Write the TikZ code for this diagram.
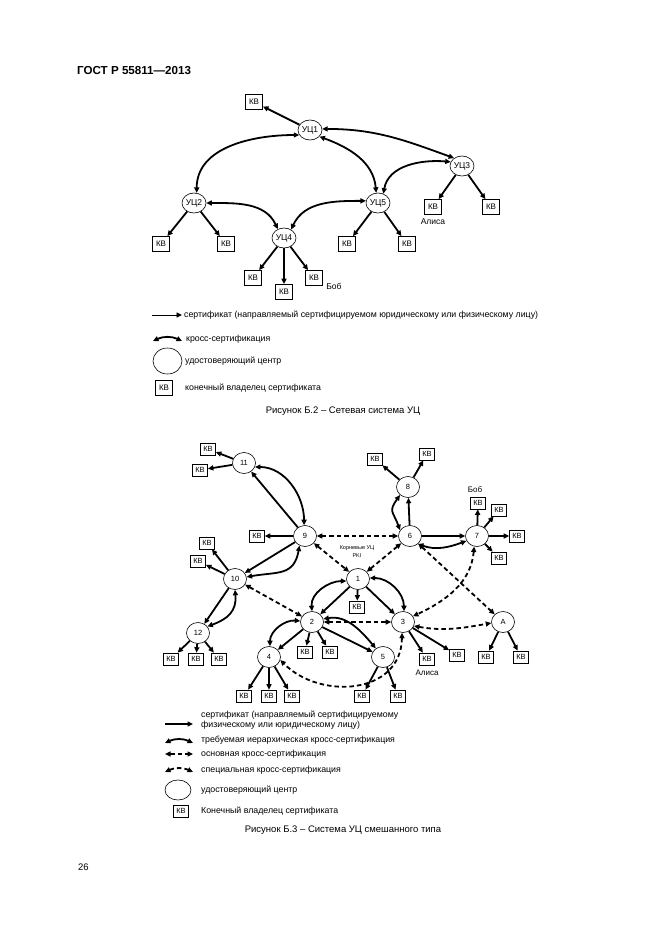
\documentclass[tikz,border=0pt]{standalone}
\usepackage{fontspec}
\setmainfont{Liberation Sans}
\usetikzlibrary{shapes.geometric,arrows.meta}
\begin{document}
\begin{tikzpicture}[x=1pt,y=1pt,
  ca/.style={draw, ellipse, line width=0.6pt, minimum width=24pt, minimum height=20pt, inner sep=0pt, font=\fontsize{8.5}{10}\selectfont},
  cb/.style={draw, ellipse, line width=0.6pt, minimum width=23pt, minimum height=21pt, inner sep=0pt, font=\fontsize{7.5}{9}\selectfont},
  kva/.style={draw, line width=0.8pt, minimum width=17pt, minimum height=15pt, inner sep=0pt, font=\fontsize{8}{9}\selectfont},
  kvb/.style={draw, line width=0.7pt, minimum width=15pt, minimum height=12pt, inner sep=0pt, font=\fontsize{7.5}{9}\selectfont},
  cert/.style={line width=1.8pt, -{Triangle[length=5.5pt,width=5pt]}},
  xcert/.style={line width=1.8pt, {Triangle[length=5.5pt,width=5pt]}-{Triangle[length=5.5pt,width=5pt]}},
  dxcert/.style={xcert, dash pattern=on 4.5pt off 3pt},
  lbl/.style={inner sep=0pt, font=\fontsize{8.5}{10}\selectfont},
  txt/.style={anchor=west, inner sep=0pt, font=\fontsize{8.8}{10.5}\selectfont},
  figcap/.style={inner sep=0pt, font=\fontsize{9.5}{11}\selectfont}
]
\path[use as bounding box, fill=white] (0,0) rectangle (661,-935);

\node[anchor=base west, inner sep=0pt, font=\bfseries\fontsize{11.6}{13}\selectfont] (hdr) at (77,-74) {ГОСТ Р 55811—2013};
\node[anchor=west, inner sep=0pt, font=\fontsize{9.5}{11}\selectfont] (pg) at (78,-867) {26};

% ---------- Figure B.2 ----------
\node[ca] (u1) at (310,-130) {УЦ1};
\node[ca] (u3) at (462,-166) {УЦ3};
\node[ca] (u2) at (194,-203) {УЦ2};
\node[ca] (u5) at (378,-203) {УЦ5};
\node[ca] (u4) at (284,-238) {УЦ4};
\node[kva] (k0) at (254,-102) {КВ};
\node[kva] (ku3a) at (433,-207) {КВ};
\node[kva] (ku3b) at (491,-207) {КВ};
\node[kva] (ku2a) at (161,-244) {КВ};
\node[kva] (ku2b) at (226,-244) {КВ};
\node[kva] (ku5a) at (347,-244) {КВ};
\node[kva] (ku5b) at (407,-244) {КВ};
\node[kva] (ku4a) at (253,-278) {КВ};
\node[kva] (ku4b) at (284,-292) {КВ};
\node[kva] (ku4c) at (314,-278) {КВ};
\node[lbl] (alice1) at (433,-222) {Алиса};
\node[lbl] (bob1) at (334,-286) {Боб};

\draw[cert] (u1) -- (k0);
\draw[cert] (u3) -- (ku3a);
\draw[cert] (u3) -- (ku3b);
\draw[cert] (u2) -- (ku2a);
\draw[cert] (u2) -- (ku2b);
\draw[cert] (u5) -- (ku5a);
\draw[cert] (u5) -- (ku5b);
\draw[cert] (u4) -- (ku4a);
\draw[cert] (u4) -- (ku4b);
\draw[cert] (u4) -- (ku4c);

\draw[xcert] (u1.205) to[out=180,in=90] (u2.75);
\draw[xcert] (u1.5) to[out=0,in=160] (u3.135);
\draw[xcert] (u1.-35) to[out=-20,in=95] (u5.100);
\draw[xcert] (u3.160) to[out=175,in=80] (u5.60);
\draw[xcert] (u2.0) to[out=0,in=115] (u4.125);
\draw[xcert] (u5.170) to[out=180,in=65] (u4.50);

% legend 1
\coordinate (la1) at (152,-315);
\coordinate (lb1) at (182,-315);
\draw[line width=0.9pt, -{Triangle[length=5.5pt,width=5pt]}] (la1) -- (lb1);
\node[txt] (t11) at (184,-315) {сертификат (направляемый сертифицируемом юридическому или физическому лицу)};
\coordinate (la2) at (153,-341);
\coordinate (lb2) at (182,-341);
\draw[xcert] (la2) to[out=25,in=155] (lb2);
\node[txt] (t12) at (186,-339) {кросс-сертификация};
\node[draw, ellipse, line width=0.6pt, minimum width=29pt, minimum height=26pt] (lc1) at (167.5,-361) {};
\node[txt] (t13) at (185,-361) {удостоверяющий центр};
\node[kva] (lk1) at (164,-388) {КВ};
\node[txt] (t14) at (185,-388) {конечный владелец сертификата};
\node[figcap] (cap1) at (343,-411) {Рисунок Б.2 – Сетевая система УЦ};

% ---------- Figure B.3 ----------
\node[cb] (n11) at (244,-463) {11};
\node[cb] (n8) at (408,-487) {8};
\node[cb] (n9) at (305,-536) {9};
\node[cb] (n6) at (410,-536) {6};
\node[cb] (n7) at (477,-536) {7};
\node[cb] (n10) at (235,-579) {10};
\node[cb] (n1) at (358,-579) {1};
\node[cb] (n12) at (198,-633) {12};
\node[cb] (n2) at (312,-622) {2};
\node[cb] (n3) at (403,-622) {3};
\node[cb] (nA) at (503,-622) {A};
\node[cb] (n4) at (269,-657) {4};
\node[cb] (n5) at (383,-657) {5};

\node[kvb] (k11a) at (208,-449) {КВ};
\node[kvb] (k11b) at (200,-470) {КВ};
\node[kvb] (k9) at (257,-536) {КВ};
\node[kvb] (k10a) at (207,-543) {КВ};
\node[kvb] (k10b) at (198,-561) {КВ};
\node[kvb] (k8a) at (375,-459) {КВ};
\node[kvb] (k8b) at (427,-454) {КВ};
\node[kvb] (k7a) at (478,-503) {КВ};
\node[kvb] (k7b) at (499,-510) {КВ};
\node[kvb] (k7c) at (517,-536) {КВ};
\node[kvb] (k7d) at (499,-558) {КВ};
\node[kvb] (k1) at (357,-607) {КВ};
\node[kvb] (k2a) at (305,-652) {КВ};
\node[kvb] (k2b) at (330,-652) {КВ};
\node[kvb] (k3a) at (427,-659) {КВ};
\node[kvb] (k3b) at (457,-655) {КВ};
\node[kvb] (kAa) at (486,-657) {КВ};
\node[kvb] (kAb) at (521,-657) {КВ};
\node[kvb] (k12a) at (171,-659) {КВ};
\node[kvb] (k12b) at (196,-659) {КВ};
\node[kvb] (k12c) at (219,-659) {КВ};
\node[kvb] (k4a) at (244,-696) {КВ};
\node[kvb] (k4b) at (269,-696) {КВ};
\node[kvb] (k4c) at (292,-696) {КВ};
\node[kvb] (k5a) at (362,-696) {КВ};
\node[kvb] (k5b) at (398,-696) {КВ};

\node[lbl, font=\fontsize{8}{9}\selectfont] (bob2) at (475,-490) {Боб};
\node[lbl, font=\fontsize{8}{9}\selectfont] (alice2) at (427,-673) {Алиса};
\node[inner sep=0pt, align=center, font=\fontsize{5.5}{8}\selectfont] (root) at (357,-552) {Корневые УЦ\\PKI};

% certificates
\draw[cert] (n11) -- (k11a);
\draw[cert] (n11) -- (k11b);
\draw[cert] (n9) -- (n11);
\draw[cert] (n9) -- (k9);
\draw[cert] (n9) -- (n10);
\draw[cert] (n10) -- (k10a);
\draw[cert] (n10) -- (k10b);
\draw[cert] (n10) -- (n12);
\draw[cert] (n12) -- (k12a);
\draw[cert] (n12) -- (k12b);
\draw[cert] (n12) -- (k12c);
\draw[cert] (n8) -- (k8a);
\draw[cert] (n8) -- (k8b);
\draw[cert] (n6) -- (n8);
\draw[cert] (n6) -- (n7);
\draw[cert] (n7) -- (k7a);
\draw[cert] (n7) -- (k7b);
\draw[cert] (n7) -- (k7c);
\draw[cert] (n7) -- (k7d);
\draw[cert] (n1) -- (k1);
\draw[cert] (n1) -- (n2);
\draw[cert] (n1) -- (n3);
\draw[cert] (n2) -- (n4);
\draw[cert] (n2) -- (k2a);
\draw[cert] (n2) -- (k2b);
\draw[cert] (n2) -- (n5);
\draw[cert] (n3) -- (k3a);
\draw[cert] (n3) -- (k3b);
\draw[cert] (nA) -- (kAa);
\draw[cert] (nA) -- (kAb);
\draw[cert] (n4) -- (k4a);
\draw[cert] (n4) -- (k4b);
\draw[cert] (n4) -- (k4c);
\draw[cert] (n5) -- (k5a);
\draw[cert] (n5) -- (k5b);

% required hierarchical cross-certification
\draw[xcert] (n11.-20) to[out=0,in=90] (n9.95);
\draw[xcert] (n9.-120) to[out=-100,in=10,looseness=1.3] (n10.10);
\draw[xcert] (n6.150) to[out=110,in=235,looseness=1.5] (n8.225);
\draw[xcert] (n6.-45) to[out=-20,in=200] (n7.205);
\draw[xcert] (n1.190) to[out=180,in=95] (n2.90);
\draw[xcert] (n1.5) to[out=0,in=90] (n3.85);
\draw[xcert] (n2.175) to[out=175,in=90] (n4.85);
\draw[xcert] (n2.15) to[out=10,in=130] (n5.130);
\draw[xcert] (n10.-90) to[out=-85,in=20,looseness=1.2] (n12.35);

% basic cross-certification
\draw[dxcert] (n9) -- (n6);
\draw[dxcert] (n9) -- (n1);
\draw[dxcert] (n6) -- (n1);
\draw[dxcert] (n10) -- (n2);
\draw[dxcert] (n2) -- (n3);
\draw[dxcert] (n6) -- (nA);

% special cross-certification
\draw[dxcert] (n7.-105) to[out=-95,in=25] (n3.30);
\draw[dxcert] (n3.-20) to[out=-10,in=190] (nA.185);
\draw[dxcert] (n3.-95) .. controls (401,-695) and (320,-700) .. (n4.-15);

% legend 2
\coordinate (ma1) at (165,-724);
\coordinate (mb1) at (193,-724);
\draw[cert] (ma1) -- (mb1);
\node[txt, align=left] (s11) at (201,-720) {сертификат (направляемый сертифицируемому\\физическому или юридическому лицу)};
\coordinate (ma2) at (165,-743);
\coordinate (mb2) at (193,-743);
\draw[xcert] (ma2) to[out=25,in=155] (mb2);
\node[txt] (s12) at (201,-740) {требуемая иерархическая кросс-сертификация};
\coordinate (ma3) at (165,-754);
\coordinate (mb3) at (193,-754);
\draw[dxcert] (ma3) -- (mb3);
\node[txt] (s13) at (201,-754) {основная кросс-сертификация};
\coordinate (ma4) at (165,-772);
\coordinate (mb4) at (193,-772);
\draw[dxcert] (ma4) to[out=25,in=155] (mb4);
\node[txt] (s14) at (201,-770) {специальная кросс-сертификация};
\node[draw, ellipse, line width=0.6pt, minimum width=26pt, minimum height=20pt] (lc2) at (178,-790) {};
\node[txt] (s15) at (201,-790) {удостоверяющий центр};
\node[kvb] (lk2) at (181,-811) {КВ};
\node[txt] (s16) at (201,-811) {Конечный владелец сертификата};
\node[figcap] (cap2) at (343,-830) {Рисунок Б.3 – Система УЦ смешанного типа};
\end{tikzpicture}
\end{document}
